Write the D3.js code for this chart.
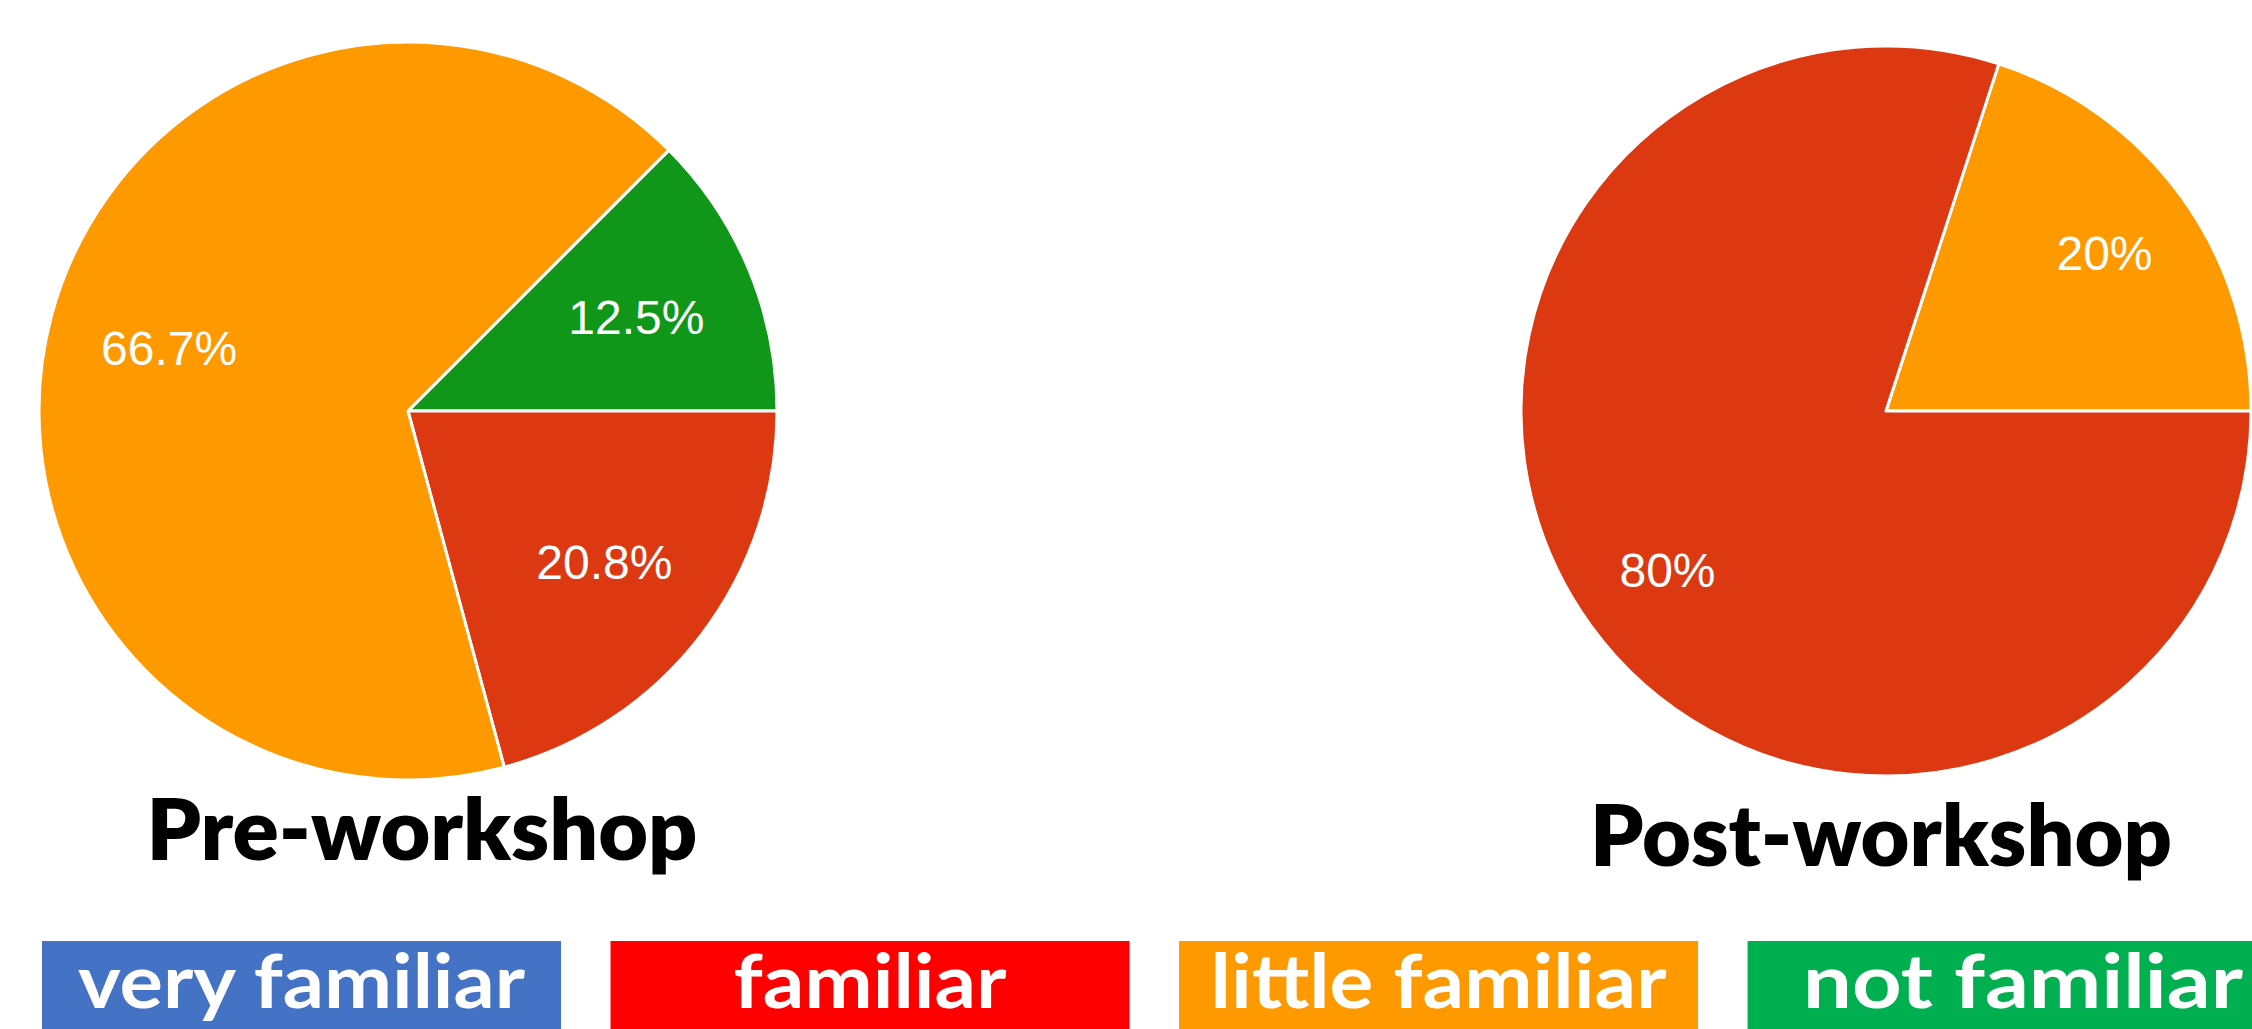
<!DOCTYPE html>
<html>
<head>
<meta charset="utf-8">
<script src="https://cdn.jsdelivr.net/npm/d3@7"></script>
<style>
  html, body { margin: 0; padding: 0; background: #fff; overflow: hidden; }
  svg { display: block; }
</style>
</head>
<body>
<svg id="chart" width="2252" height="1029"></svg>
<script>
// Familiarity survey: pre vs post workshop

const categories = ['very familiar', 'familiar', 'little familiar', 'not familiar'];
const legendColors = ['#4472C4', '#FF0000', '#FF9900', '#00B050'];
const sliceColors = ['#3366CC', '#DC3912', '#FF9900', '#109618'];

// slice order as drawn, first slice ends at 3 o'clock
const preCategories = ['not familiar', 'familiar', 'little familiar'];
const preValues = [12.5, 20.8, 66.7];

const postCategories = ['little familiar', 'familiar'];
const postValues = [20, 80];

const titles = ['Pre-workshop', 'Post-workshop'];

const W = 2252, H = 1029;
const svg = d3.select('#chart');

const sliceColor = d3.scaleOrdinal().domain(categories).range(sliceColors);
const legendColor = d3.scaleOrdinal().domain(categories).range(legendColors);

const charts = [
    { cats: preCategories, vals: preValues, cx: 408, cy: 411, r: 369, labelK: 0.67,
      title: titles[0], tx: 422, ty: 860, tw: 551 },
    { cats: postCategories, vals: postValues, cx: 1886, cy: 411, r: 365, labelK: 0.74,
      title: titles[1], tx: 1881, ty: 866, tw: 582 }
];

charts.forEach(c => {
    const data = c.cats.map((k, i) => ({ key: k, value: c.vals[i] }));
    const total = d3.sum(c.vals);
    const start = Math.PI / 2 - 2 * Math.PI * c.vals[0] / total;

    const pie = d3.pie()
        .sort(null)
        .value(d => d.value)
        .startAngle(start)
        .endAngle(start + 2 * Math.PI);

    const arc = d3.arc().innerRadius(0).outerRadius(c.r);
    const labelArc = d3.arc().innerRadius(c.r * c.labelK).outerRadius(c.r * c.labelK);

    const g = svg.append('g')
        .attr('transform', `translate(${c.cx},${c.cy})`);

    const arcs = pie(data);

    g.selectAll('path')
        .data(arcs)
        .enter()
        .append('path')
        .attr('d', arc)
        .attr('fill', d => sliceColor(d.data.key))
        .attr('stroke', '#fff')
        .attr('stroke-width', 3)
        .attr('stroke-linejoin', 'round');

    g.selectAll('text.pct')
        .data(arcs)
        .enter()
        .append('text')
        .attr('class', 'pct')
        .attr('transform', d => `translate(${labelArc.centroid(d)})`)
        .attr('text-anchor', 'middle')
        .attr('dy', '0.36em')
        .attr('fill', '#fff')
        .attr('font-family', 'Arial, "Liberation Sans", sans-serif')
        .attr('font-size', '48px')
        .text(d => `${d.data.value}%`);

    svg.append('text')
        .attr('x', c.tx)
        .attr('y', c.ty)
        .attr('text-anchor', 'middle')
        .attr('font-family', 'Lato, "Open Sans", sans-serif')
        .attr('font-weight', 800)
        .attr('font-size', '86px')
        .attr('fill', '#000')
        .attr('textLength', c.tw)
        .attr('lengthAdjust', 'spacingAndGlyphs')
        .text(c.title);
});

// Legend boxes along the bottom
const legendWidths = [447, 273, 456, 440];

const xBand = d3.scaleBand()
    .domain(categories)
    .range([42, 2266.6])
    .paddingInner(0.0871)
    .paddingOuter(0);

const legend = svg.selectAll('g.legend')
    .data(categories)
    .enter()
    .append('g')
    .attr('class', 'legend')
    .attr('transform', d => `translate(${xBand(d)},941)`);

legend.append('rect')
    .attr('width', xBand.bandwidth())
    .attr('height', 110)
    .attr('fill', d => legendColor(d));

legend.append('text')
    .attr('x', (d, i) => xBand.bandwidth() / 2 + (i === 3 ? 16 : 0))
    .attr('y', 67)
    .attr('text-anchor', 'middle')
    .attr('font-family', 'Lato, "Open Sans", sans-serif')
    .attr('font-weight', 'bold')
    .attr('font-size', '74px')
    .attr('fill', '#fff')
    .attr('textLength', (d, i) => legendWidths[i])
    .attr('lengthAdjust', 'spacingAndGlyphs')
    .text(d => d);
</script>
</body>
</html>
